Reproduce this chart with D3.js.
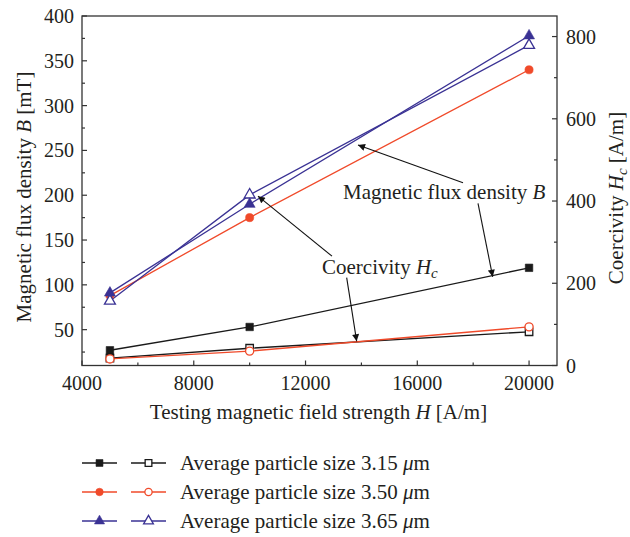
<!DOCTYPE html>
<html><head><meta charset="utf-8">
<script src="https://cdn.jsdelivr.net/npm/d3@7"></script>
<style>
body{margin:0;background:#fff}
svg{display:block}
text{font-family:"Liberation Serif","Times New Roman",serif;fill:#231f20}
</style>
</head><body><svg id="c" width="630" height="537"></svg>
<script>
// ---------- data ----------
const fieldH = [5000, 10000, 20000];
const seriesLabels = ["Average particle size 3.15 ", "Average particle size 3.50 ", "Average particle size 3.65 "];
const seriesColors = ["#1a1a1a", "#f04a2a", "#3a3294"];
const seriesShapes = ["square", "circle", "triangle"];
const fluxB_315 = [27, 53, 119];
const fluxB_350 = [88, 175, 340];
const fluxB_365 = [91, 190, 378];
const coerc_315 = [18, 42, 82];
const coerc_350 = [16, 35, 94];
const coerc_365 = [157, 415, 779];
const xTicks = [4000, 8000, 12000, 16000, 20000];
const xMinorTicks = [6000, 10000, 14000, 18000];
const yLeftTicks = [50, 100, 150, 200, 250, 300, 350, 400];
const yLeftMinor = [25, 75, 125, 175, 225, 275, 325, 375];
const yRightTicks = [0, 200, 400, 600, 800];
const yRightMinor = [100, 300, 500, 700];
// annotation arrows in data units (H, left-axis B)
const arrowsB = [[17636, 214, 13878, 256], [18173, 191, 18699, 109]];
const arrowsHc = [[12947, 132, 10299, 199], [13473, 108, 13831, 37]];
const labelB = [13341, 196];
const labelHc = [12589, 112];

const fluxB = [fluxB_315, fluxB_350, fluxB_365];
const coerc = [coerc_315, coerc_350, coerc_365];

// ---------- layout ----------
const svg = d3.select("#c");
const L = 82, R = 557, T = 16, B = 365.5;
const x = d3.scaleLinear().domain([4000, 21000]).range([L, R]);
const yL = d3.scaleLinear().domain([10, 400]).range([B, T]);
const yR = d3.scaleLinear().domain([0, 850]).range([B, T]);
const axisColor = "#333";
const fs = 21, fsTick = 20;

const symType = {square: d3.symbolSquare, circle: d3.symbolCircle, triangle: d3.symbolTriangle};
const symSize = {square: 56, circle: 52, triangle: 52};
function marker(g, shape, cx, cy, color, filled, scale = 1) {
  g.append("path")
    .attr("d", d3.symbol().type(symType[shape]).size(symSize[shape] * scale)())
    .attr("transform", `translate(${cx},${cy})`)
    .attr("fill", filled ? color : "#fff")
    .attr("stroke", color)
    .attr("stroke-width", filled ? 0.6 : 1.3);
}

// series lines
const lineL = d3.line().x((d, i) => x(fieldH[i])).y(d => yL(d));
const lineR = d3.line().x((d, i) => x(fieldH[i])).y(d => yR(d));
const gLines = svg.append("g");
[0, 1, 2].forEach(s => {
  gLines.append("path").attr("d", lineL(fluxB[s])).attr("fill", "none").attr("stroke", seriesColors[s]).attr("stroke-width", 1.3);
  gLines.append("path").attr("d", lineR(coerc[s])).attr("fill", "none").attr("stroke", seriesColors[s]).attr("stroke-width", 1.3);
});
const gM = svg.append("g");
[0, 1, 2].forEach(s => {
  coerc[s].forEach((v, i) => marker(gM, seriesShapes[s], x(fieldH[i]), yR(v), seriesColors[s], false));
  fluxB[s].forEach((v, i) => marker(gM, seriesShapes[s], x(fieldH[i]), yL(v), seriesColors[s], true));
});

// frame
svg.append("rect").attr("x", L).attr("y", T).attr("width", R - L).attr("height", B - T)
  .attr("fill", "none").attr("stroke", axisColor).attr("stroke-width", 1.3);

// ticks (inward)
const gt = svg.append("g").attr("stroke", axisColor).attr("stroke-width", 1.2);
xTicks.forEach(t => gt.append("line").attr("x1", x(t)).attr("x2", x(t)).attr("y1", B).attr("y2", B - 5));
xMinorTicks.forEach(t => gt.append("line").attr("x1", x(t)).attr("x2", x(t)).attr("y1", B).attr("y2", B - 3));
yLeftTicks.forEach(t => gt.append("line").attr("x1", L).attr("x2", L + 5).attr("y1", yL(t)).attr("y2", yL(t)));
yLeftMinor.forEach(t => gt.append("line").attr("x1", L).attr("x2", L + 3).attr("y1", yL(t)).attr("y2", yL(t)));
yRightTicks.forEach(t => gt.append("line").attr("x1", R).attr("x2", R - 5).attr("y1", yR(t)).attr("y2", yR(t)));
yRightMinor.forEach(t => gt.append("line").attr("x1", R).attr("x2", R - 3).attr("y1", yR(t)).attr("y2", yR(t)));

// tick labels
const gl = svg.append("g").attr("font-size", fsTick);
xTicks.forEach(t => gl.append("text").attr("x", x(t)).attr("y", B + 24).attr("text-anchor", "middle").text(t));
yLeftTicks.forEach(t => gl.append("text").attr("x", L - 8).attr("y", yL(t)).attr("dy", "0.35em").attr("text-anchor", "end").text(t));
yRightTicks.forEach(t => gl.append("text").attr("x", R + 9).attr("y", yR(t)).attr("dy", "0.35em").attr("text-anchor", "start").text(t));

// axis titles
const xt = svg.append("text").attr("x", (L + R) / 2 - 1).attr("y", 419).attr("text-anchor", "middle").attr("font-size", fs);
xt.append("tspan").text("Testing magnetic field strength ");
xt.append("tspan").attr("font-style", "italic").text("H");
xt.append("tspan").text(" [A/m]");

const ylt = svg.append("text").attr("transform", "translate(31,197) rotate(-90)").attr("text-anchor", "middle").attr("font-size", fs);
ylt.append("tspan").text("Magnetic flux density ");
ylt.append("tspan").attr("font-style", "italic").text("B");
ylt.append("tspan").text(" [mT]");

const yrt = svg.append("text").attr("transform", "translate(623,198) rotate(-90)").attr("text-anchor", "middle").attr("font-size", fs);
yrt.append("tspan").text("Coercivity ");
yrt.append("tspan").attr("font-style", "italic").text("H");
yrt.append("tspan").attr("font-style", "italic").attr("font-size", 15).attr("dy", 4).text("c");
yrt.append("tspan").attr("dy", -4).text(" [A/m]");

// annotations
svg.append("defs").append("marker").attr("id", "ah").attr("viewBox", "0 0 10 10").attr("refX", 10).attr("refY", 5)
  .attr("markerWidth", 11).attr("markerHeight", 7).attr("markerUnits", "userSpaceOnUse").attr("orient", "auto")
  .append("path").attr("d", "M0,0L10,5L0,10Z").attr("fill", "#111");
arrowsB.concat(arrowsHc).forEach(a => {
  svg.append("line").attr("x1", x(a[0])).attr("y1", yL(a[1])).attr("x2", x(a[2])).attr("y2", yL(a[3]))
    .attr("stroke", "#111").attr("stroke-width", 1.1).attr("marker-end", "url(#ah)");
});
const tb = svg.append("text").attr("x", x(labelB[0])).attr("y", yL(labelB[1])).attr("font-size", fs);
tb.append("tspan").text("Magnetic flux density ");
tb.append("tspan").attr("font-style", "italic").text("B");
const th = svg.append("text").attr("x", x(labelHc[0])).attr("y", yL(labelHc[1])).attr("font-size", fs);
th.append("tspan").text("Coercivity ");
th.append("tspan").attr("font-style", "italic").text("H");
th.append("tspan").attr("font-style", "italic").attr("font-size", 15).attr("dy", 4).text("c");

// legend
const legY = [463, 492, 521];
const lg = svg.append("g");
[0, 1, 2].forEach(s => {
  const yy = legY[s];
  lg.append("line").attr("x1", 82).attr("x2", 117).attr("y1", yy).attr("y2", yy).attr("stroke", seriesColors[s]).attr("stroke-width", 1.3);
  marker(lg, seriesShapes[s], 99.5, yy, seriesColors[s], true, 0.85);
  lg.append("line").attr("x1", 131).attr("x2", 166).attr("y1", yy).attr("y2", yy).attr("stroke", seriesColors[s]).attr("stroke-width", 1.3);
  marker(lg, seriesShapes[s], 148.5, yy, seriesColors[s], false, 0.8);
  const t = lg.append("text").attr("x", 180).attr("y", yy).attr("dy", "0.33em").attr("font-size", fs);
  t.append("tspan").text(seriesLabels[s]);
  t.append("tspan").attr("font-style", "italic").text("μ");
  t.append("tspan").text("m");
});
</script></body></html>
